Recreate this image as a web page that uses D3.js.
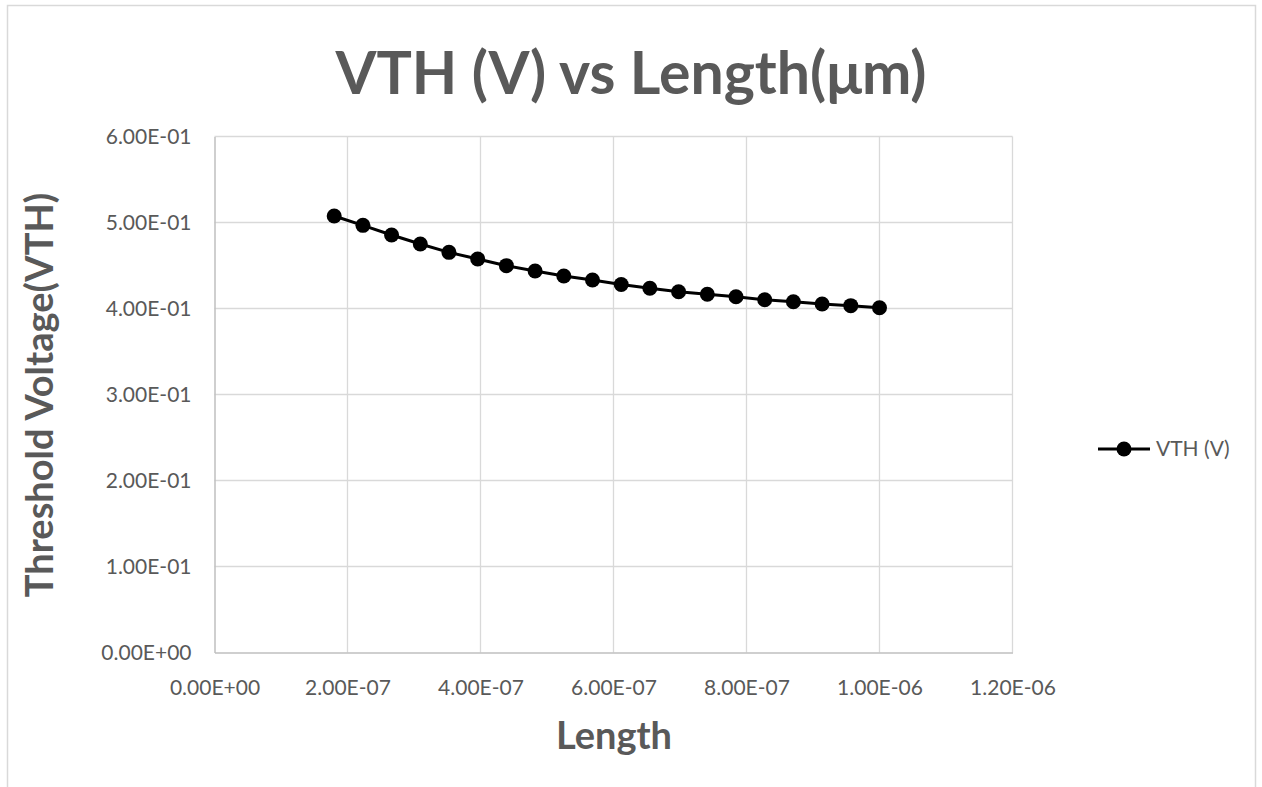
<!DOCTYPE html>
<html>
<head>
<meta charset="utf-8">
<script src="https://cdn.jsdelivr.net/npm/d3@7"></script>
<style>
  body { margin: 0; background: #fff; }
  svg { display: block; font-family: "Lato", "Open Sans", sans-serif; }
</style>
</head>
<body>
<div id="chart"></div>
<script>
// channel length (m) and threshold voltage (V)
var lengths = [1.8e-7, 2.232e-7, 2.663e-7, 3.095e-7, 3.526e-7, 3.958e-7, 4.389e-7, 4.821e-7, 5.253e-7, 5.684e-7,
               6.116e-7, 6.547e-7, 6.979e-7, 7.411e-7, 7.842e-7, 8.274e-7, 8.705e-7, 9.137e-7, 9.568e-7, 1.0e-6];
var vth = [0.5076, 0.4967, 0.4855, 0.4750, 0.4653, 0.4576, 0.4498, 0.4436, 0.4378, 0.4331,
           0.4279, 0.4235, 0.4195, 0.4165, 0.4137, 0.4102, 0.4079, 0.4052, 0.4033, 0.4009];
var xTicks = [0, 2e-7, 4e-7, 6e-7, 8e-7, 1.0e-6, 1.2e-6];
var yTicks = [0, 0.1, 0.2, 0.3, 0.4, 0.5, 0.6];
var seriesName = "VTH (V)";

var W = 1262, H = 787;
var plotL = 214.5, plotR = 1012.5, plotT = 136.5, plotB = 652.5;
var grey = "#595959", gridCol = "#d9d9d9";

var svg = d3.select("#chart").append("svg").attr("width", W).attr("height", H);

// outer chart border (bottom edge is cut off in the picture)
svg.append("rect").attr("x", 7.5).attr("y", 5.5).attr("width", 1248).attr("height", 800)
  .attr("fill", "#fff").attr("stroke", gridCol).attr("stroke-width", 1.5);

var x = d3.scaleLinear().domain([0, 1.2e-6]).range([plotL, plotR]);
var y = d3.scaleLinear().domain([0, 0.6]).range([plotB, plotT]);

function sci(v){
  if (v === 0) return "0.00E+00";
  var s = v.toExponential(2).toUpperCase();
  return s.replace(/E([+-])(\d)$/, "E$10$2");
}

// grid
svg.append("g").selectAll("line").data(yTicks.slice(1)).join("line")
  .attr("x1", plotL).attr("x2", plotR).attr("y1", d => y(d)).attr("y2", d => y(d))
  .attr("stroke", gridCol).attr("stroke-width", 1.3);
svg.append("g").selectAll("line").data(xTicks.slice(1)).join("line")
  .attr("y1", plotT).attr("y2", plotB).attr("x1", d => x(d)).attr("x2", d => x(d))
  .attr("stroke", gridCol).attr("stroke-width", 1.3);

// axes
var xAxis = svg.append("g").attr("transform", "translate(0," + plotB + ")")
  .call(d3.axisBottom(x).tickValues(xTicks).tickFormat(sci).tickSize(0).tickPadding(28));
var yAxis = svg.append("g").attr("transform", "translate(" + plotL + ",0)")
  .call(d3.axisLeft(y).tickValues(yTicks).tickFormat(sci).tickSize(0).tickPadding(23));
[xAxis, yAxis].forEach(function(a){
  a.select(".domain").attr("stroke", "#bfbfbf").attr("stroke-width", 1.5);
  a.selectAll("text").attr("fill", grey).style("font-size", "21px").style("font-family", "Lato, sans-serif");
});

// series
svg.append("path").datum(d3.zip(lengths, vth))
  .attr("fill", "none").attr("stroke", "#000").attr("stroke-width", 3)
  .attr("d", d3.line().x(d => x(d[0])).y(d => y(d[1])));
svg.append("g").selectAll("circle").data(d3.zip(lengths, vth)).join("circle")
  .attr("cx", d => x(d[0])).attr("cy", d => y(d[1])).attr("r", 7.5).attr("fill", "#000");

// titles
svg.append("text").attr("x", 631).attr("y", 94).attr("text-anchor", "middle")
  .attr("fill", grey).style("font-size", "59px").style("font-weight", "bold")
  .text("VTH (V) vs Length(μm)");
svg.append("text").attr("x", 614).attr("y", 749).attr("text-anchor", "middle")
  .attr("fill", grey).style("font-size", "38px").style("font-weight", "bold").text("Length");
svg.append("text").attr("transform", "translate(53,395) rotate(-90)").attr("text-anchor", "middle")
  .attr("fill", grey).style("font-size", "38px").style("font-weight", "bold").text("Threshold Voltage(VTH)");

// legend
var lg = svg.append("g").attr("transform", "translate(1098,449)");
lg.append("line").attr("x1", 0).attr("x2", 52).attr("stroke", "#000").attr("stroke-width", 3);
lg.append("circle").attr("cx", 26).attr("r", 7.5).attr("fill", "#000");
lg.append("text").attr("x", 58).attr("dy", "0.35em").attr("fill", grey)
  .style("font-size", "21px").style("font-family", "Lato, sans-serif").text(seriesName);
</script>
</body>
</html>
